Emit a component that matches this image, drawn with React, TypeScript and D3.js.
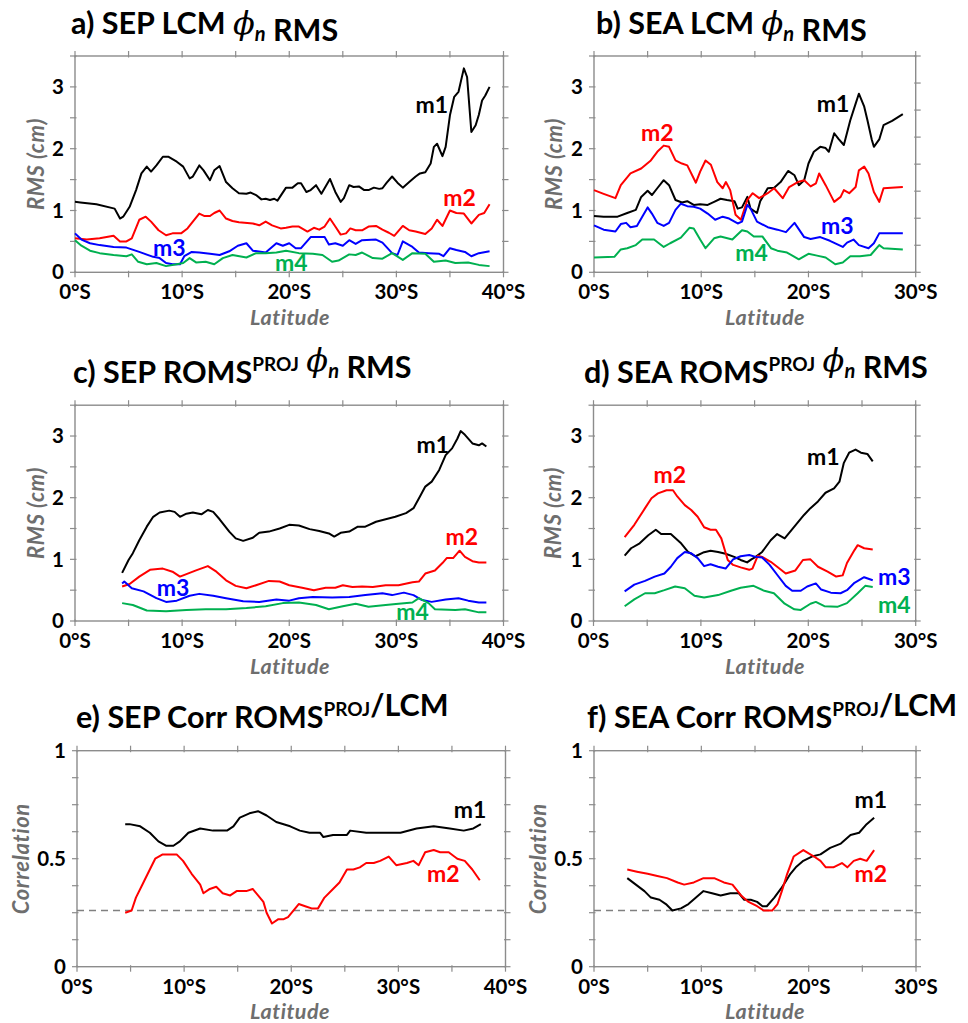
import React from 'react';
import * as d3 from 'd3';

type Pt = [number, number];

// ---------- a) SEP LCM phi_n RMS ----------
const aM1: Pt[] = [[0,1.14],[0.5,1.13],[2.0,1.10],[3.7,1.03],[4.2,0.87],[4.5,0.90],[5.1,1.06],[5.7,1.33],[6.2,1.60],[6.7,1.71],[7.1,1.63],[7.6,1.73],[8.2,1.87],[8.7,1.87],[9.5,1.79],[10.1,1.71],[10.7,1.52],[11.0,1.55],[11.6,1.73],[12.0,1.65],[12.6,1.49],[13.0,1.65],[13.5,1.72],[14.1,1.46],[14.7,1.36],[15.3,1.28],[16.0,1.27],[16.4,1.29],[16.9,1.25],[17.4,1.18],[17.8,1.19],[18.2,1.17],[18.6,1.19],[18.9,1.16],[19.7,1.37],[20.3,1.37],[20.8,1.44],[21.1,1.44],[21.6,1.30],[22.0,1.33],[22.5,1.41],[23.0,1.27],[23.3,1.36],[23.8,1.51],[24.3,1.30],[24.8,1.14],[25.1,1.20],[25.6,1.41],[26.0,1.38],[26.5,1.39],[27.0,1.33],[27.4,1.33],[27.9,1.37],[28.4,1.35],[28.7,1.36],[29.1,1.45],[29.6,1.55],[30.1,1.45],[30.6,1.37],[31.2,1.46],[31.8,1.55],[32.2,1.60],[32.7,1.62],[33.2,1.76],[33.5,2.03],[33.8,2.08],[34.3,1.88],[34.6,2.03],[35.0,2.54],[35.4,2.84],[35.8,2.92],[36.3,3.30],[36.6,3.16],[37.0,2.27],[37.4,2.38],[37.7,2.55],[38.0,2.78],[38.3,2.86],[38.7,3.00]];
const aM2: Pt[] = [[0,0.55],[1.1,0.53],[2.3,0.55],[3.6,0.59],[4.2,0.50],[4.8,0.50],[5.3,0.55],[6.0,0.85],[6.6,0.90],[7.1,0.82],[7.8,0.68],[8.5,0.60],[9.1,0.63],[9.9,0.63],[10.5,0.71],[11.0,0.82],[11.6,0.95],[12.1,0.91],[12.6,0.91],[13.0,0.96],[13.5,1.00],[14.1,0.87],[14.7,0.83],[15.3,0.81],[16.6,0.79],[17.2,0.76],[17.8,0.82],[18.4,0.76],[19.2,0.71],[19.7,0.72],[20.3,0.74],[20.9,0.74],[21.7,0.66],[22.3,0.72],[22.8,0.69],[23.3,0.74],[23.8,0.87],[24.3,0.74],[24.8,0.61],[25.3,0.63],[25.7,0.71],[26.2,0.68],[26.8,0.68],[27.4,0.74],[28.1,0.75],[28.7,0.69],[29.3,0.64],[29.8,0.59],[30.6,0.75],[31.2,0.68],[31.8,0.66],[32.7,0.62],[33.3,0.71],[33.8,0.85],[34.3,0.75],[35.0,1.00],[35.6,0.96],[36.3,0.95],[37.0,0.79],[37.7,0.93],[38.2,0.96],[38.7,1.10]];
const aM3: Pt[] = [[0,0.63],[0.6,0.53],[1.4,0.47],[2.3,0.44],[3.6,0.41],[4.8,0.40],[6.0,0.33],[7.3,0.25],[7.9,0.23],[8.5,0.15],[9.1,0.13],[9.8,0.13],[10.2,0.26],[10.9,0.33],[11.6,0.32],[12.6,0.30],[13.5,0.28],[14.4,0.34],[15.2,0.43],[16.0,0.47],[16.6,0.35],[17.8,0.32],[18.8,0.47],[19.4,0.43],[20.0,0.47],[20.6,0.39],[21.1,0.39],[22.0,0.57],[23.3,0.57],[23.7,0.45],[24.3,0.47],[25.0,0.43],[25.6,0.52],[26.2,0.46],[26.8,0.52],[28.1,0.53],[28.7,0.48],[29.6,0.31],[30.1,0.28],[30.6,0.50],[31.5,0.41],[32.1,0.32],[33.0,0.31],[34.0,0.30],[34.4,0.26],[35.0,0.39],[35.6,0.36],[36.4,0.33],[37.0,0.26],[37.7,0.31],[38.7,0.34]];
const aM4: Pt[] = [[0,0.52],[0.6,0.43],[1.4,0.35],[2.3,0.31],[3.6,0.28],[4.8,0.26],[5.3,0.29],[5.9,0.17],[6.7,0.13],[7.6,0.15],[8.5,0.10],[9.5,0.13],[10.1,0.15],[10.7,0.23],[11.3,0.16],[12.2,0.17],[13.0,0.13],[13.8,0.23],[14.7,0.28],[16.0,0.24],[16.9,0.31],[17.8,0.31],[18.8,0.32],[19.7,0.35],[20.9,0.31],[22.2,0.30],[23.1,0.28],[24.0,0.17],[24.6,0.19],[25.6,0.29],[26.2,0.28],[26.8,0.32],[27.8,0.23],[28.7,0.22],[29.6,0.31],[30.6,0.20],[31.5,0.31],[32.7,0.30],[33.5,0.17],[34.6,0.19],[35.5,0.15],[36.7,0.16],[37.7,0.12],[38.7,0.10]];

// ---------- b) SEA LCM phi_n RMS ----------
const bM1: Pt[] = [[0,0.91],[0.9,0.90],[2.2,0.90],[3.1,0.96],[3.9,1.01],[4.4,1.22],[5.0,1.32],[5.4,1.25],[5.9,1.36],[6.5,1.49],[7.0,1.41],[7.6,1.17],[8.2,1.13],[8.7,1.15],[9.3,1.09],[9.9,1.10],[10.6,1.09],[11.2,1.14],[11.8,1.19],[12.4,1.17],[13.1,1.15],[13.4,1.03],[13.8,1.05],[14.3,1.22],[14.6,1.03],[15.2,0.96],[15.5,1.15],[16.2,1.36],[16.8,1.37],[17.4,1.46],[18.1,1.64],[18.7,1.57],[19.1,1.41],[19.6,1.49],[20.0,1.76],[20.5,1.95],[21.1,2.03],[21.6,2.01],[21.9,1.95],[22.4,2.25],[22.8,2.16],[23.3,2.06],[23.9,2.46],[24.4,2.73],[24.7,2.89],[25.2,2.68],[25.5,2.46],[25.9,2.15],[26.1,2.03],[26.6,2.15],[27.0,2.38],[27.8,2.45],[28.8,2.56]];
const bM2: Pt[] = [[0,1.33],[0.9,1.27],[2.0,1.20],[2.5,1.41],[3.4,1.60],[4.4,1.68],[5.3,1.81],[5.9,1.95],[6.5,2.05],[7.0,2.03],[7.6,1.81],[8.2,1.76],[8.7,1.73],[9.5,1.45],[9.9,1.63],[10.4,1.81],[10.9,1.74],[11.5,1.46],[12.0,1.36],[12.3,1.46],[12.7,1.33],[13.2,0.93],[13.7,0.85],[14.3,1.17],[14.8,1.28],[15.4,1.20],[16.2,1.28],[16.8,1.36],[17.6,1.20],[18.2,1.38],[19.0,1.46],[19.6,1.49],[20.2,1.39],[20.7,1.44],[21.0,1.60],[21.6,1.41],[22.4,1.14],[23.0,1.22],[23.3,1.33],[23.8,1.28],[24.4,1.38],[24.7,1.65],[25.2,1.71],[25.6,1.60],[26.1,1.30],[26.6,1.14],[27.0,1.36],[28.8,1.38]];
const bM3: Pt[] = [[0,0.76],[0.9,0.69],[2.0,0.66],[2.5,0.78],[3.0,0.80],[3.4,0.73],[4.0,0.75],[4.5,0.90],[5.0,1.05],[5.4,0.95],[5.9,0.80],[6.5,0.75],[7.0,0.80],[7.6,1.01],[8.1,1.11],[8.7,1.07],[9.3,1.06],[9.9,1.03],[10.6,0.95],[11.3,0.85],[12.0,0.90],[12.6,0.87],[13.4,0.79],[13.8,0.82],[14.3,1.09],[14.6,1.03],[15.2,0.82],[16.2,0.73],[17.1,0.69],[17.9,0.65],[18.7,0.80],[19.6,0.57],[20.2,0.54],[21.1,0.57],[22.0,0.51],[23.2,0.41],[23.6,0.48],[24.2,0.53],[24.7,0.44],[25.6,0.39],[26.1,0.47],[26.6,0.63],[28.8,0.63]];
const bM4: Pt[] = [[0,0.24],[1.9,0.25],[2.5,0.37],[3.1,0.39],[3.9,0.44],[4.5,0.53],[5.6,0.53],[6.5,0.41],[7.1,0.47],[8.1,0.56],[8.9,0.72],[9.3,0.71],[9.9,0.53],[10.4,0.39],[11.2,0.55],[11.8,0.58],[12.9,0.53],[13.8,0.68],[14.3,0.66],[14.9,0.58],[15.7,0.58],[16.5,0.39],[17.1,0.35],[18.0,0.32],[19.1,0.21],[20.0,0.30],[20.8,0.27],[21.6,0.24],[22.5,0.13],[23.2,0.16],[23.9,0.26],[24.8,0.26],[25.8,0.28],[26.6,0.44],[27.0,0.39],[28.8,0.37]];

// ---------- c) SEP ROMS-PROJ phi_n RMS ----------
const cM1: Pt[] = [[4.4,0.78],[5.0,0.99],[5.4,1.10],[6.0,1.31],[6.7,1.53],[7.3,1.69],[7.9,1.76],[8.8,1.79],[9.3,1.77],[9.8,1.69],[10.4,1.74],[11.0,1.76],[11.8,1.73],[12.4,1.80],[12.9,1.77],[13.5,1.65],[14.4,1.45],[15.0,1.34],[15.7,1.30],[16.6,1.35],[17.2,1.43],[18.1,1.45],[19.1,1.50],[20.0,1.56],[20.9,1.55],[21.9,1.49],[22.8,1.46],[23.7,1.42],[24.2,1.37],[24.8,1.43],[25.6,1.45],[26.4,1.53],[27.1,1.53],[28.1,1.61],[29.0,1.65],[29.9,1.69],[30.9,1.75],[31.6,1.83],[32.2,2.02],[32.7,2.18],[33.3,2.26],[34.0,2.45],[34.6,2.69],[35.2,2.80],[35.7,2.96],[36.0,3.08],[36.4,3.02],[37.1,2.88],[37.7,2.85],[38.0,2.88],[38.4,2.83]];
const cM2: Pt[] = [[4.4,0.56],[5.1,0.60],[6.0,0.72],[7.0,0.83],[8.2,0.85],[9.1,0.80],[9.8,0.72],[10.4,0.76],[11.3,0.82],[12.4,0.89],[13.2,0.80],[14.1,0.66],[15.0,0.57],[16.0,0.53],[16.9,0.58],[18.1,0.65],[19.1,0.64],[20.0,0.58],[21.2,0.54],[22.3,0.50],[23.4,0.54],[24.3,0.54],[25.0,0.58],[25.9,0.55],[26.8,0.56],[27.8,0.55],[29.0,0.58],[30.2,0.58],[31.5,0.63],[32.1,0.64],[32.7,0.77],[33.6,0.82],[34.3,0.94],[34.7,1.02],[35.3,1.02],[35.9,1.14],[36.4,1.04],[37.1,0.97],[37.7,0.95],[38.4,0.95]];
const cM3: Pt[] = [[4.4,0.61],[4.6,0.64],[5.3,0.53],[6.4,0.48],[7.6,0.37],[8.5,0.31],[9.5,0.33],[10.7,0.41],[11.6,0.44],[12.9,0.41],[14.1,0.37],[15.7,0.32],[17.2,0.31],[18.8,0.35],[20.0,0.33],[20.9,0.37],[22.2,0.39],[24.0,0.38],[25.6,0.39],[27.1,0.42],[28.7,0.45],[29.6,0.42],[30.7,0.46],[31.6,0.42],[32.4,0.34],[33.3,0.31],[34.6,0.35],[35.8,0.37],[36.7,0.33],[37.7,0.30],[38.4,0.30]];
const cM4: Pt[] = [[4.4,0.29],[5.4,0.26],[6.7,0.17],[8.5,0.16],[10.4,0.18],[12.2,0.19],[14.1,0.19],[16.0,0.21],[17.8,0.24],[19.4,0.29],[20.9,0.30],[22.5,0.26],[23.7,0.19],[25.0,0.24],[26.2,0.28],[27.4,0.23],[29.0,0.26],[30.2,0.28],[31.5,0.30],[32.1,0.37],[33.0,0.29],[33.6,0.19],[35.5,0.18],[36.4,0.19],[37.7,0.14],[38.4,0.14]];

// ---------- d) SEA ROMS-PROJ phi_n RMS ----------
const dM1: Pt[] = [[2.9,1.06],[3.5,1.18],[4.3,1.26],[5.1,1.39],[5.8,1.48],[6.3,1.41],[7.2,1.41],[8.1,1.27],[8.8,1.12],[9.5,1.05],[10.2,1.11],[10.9,1.14],[11.6,1.12],[12.3,1.09],[13.1,1.04],[13.7,0.99],[14.3,0.95],[14.7,1.00],[15.1,1.04],[15.7,1.12],[16.5,1.31],[17.1,1.41],[17.8,1.34],[18.7,1.53],[19.6,1.72],[20.2,1.83],[20.9,1.94],[21.6,2.08],[22.4,2.15],[22.9,2.26],[23.3,2.56],[23.8,2.73],[24.4,2.78],[24.9,2.73],[25.5,2.71],[26.0,2.59]];
const dM2: Pt[] = [[2.9,1.36],[3.8,1.56],[4.8,1.83],[5.4,1.99],[6.0,2.07],[6.8,2.12],[7.4,2.12],[7.8,2.02],[8.5,1.88],[9.1,1.80],[9.7,1.69],[10.3,1.52],[10.9,1.48],[11.4,1.48],[11.9,1.34],[12.5,0.99],[13.0,0.91],[13.7,0.87],[14.5,0.83],[14.8,0.85],[15.3,1.06],[15.7,1.04],[16.5,0.96],[17.1,0.88],[17.9,0.77],[18.8,0.82],[19.5,0.99],[20.2,1.00],[20.9,0.88],[21.8,0.80],[22.6,0.72],[23.2,0.74],[23.6,0.94],[24.3,1.15],[24.6,1.23],[25.2,1.18],[26.0,1.16]];
const dM3: Pt[] = [[2.9,0.48],[3.8,0.59],[4.8,0.65],[5.7,0.72],[6.6,0.77],[7.2,0.88],[7.8,1.02],[8.5,1.12],[9.1,1.10],[9.7,1.02],[10.3,0.89],[10.9,0.92],[11.6,0.88],[12.3,0.85],[13.0,1.00],[13.7,1.05],[14.5,1.07],[15.1,1.04],[15.7,1.03],[16.4,0.91],[17.1,0.75],[17.9,0.57],[18.5,0.49],[19.3,0.49],[19.9,0.56],[20.7,0.61],[21.2,0.51],[22.1,0.46],[23.0,0.45],[23.6,0.50],[24.3,0.62],[25.2,0.71],[26.0,0.66]];
const dM4: Pt[] = [[2.9,0.24],[3.8,0.35],[4.8,0.45],[5.7,0.45],[6.6,0.50],[7.6,0.56],[8.5,0.53],[9.4,0.41],[10.3,0.38],[11.6,0.42],[12.8,0.49],[13.7,0.54],[14.9,0.57],[15.9,0.49],[16.8,0.45],[17.8,0.28],[18.7,0.19],[19.3,0.18],[20.2,0.28],[20.7,0.31],[21.5,0.24],[22.7,0.23],[23.6,0.29],[24.6,0.45],[25.3,0.57],[26.0,0.55]];

// ---------- e) SEP correlation ROMS-PROJ / LCM ----------
const eM1: Pt[] = [[4.5,0.66],[4.9,0.66],[5.9,0.65],[6.8,0.62],[7.6,0.58],[8.3,0.56],[9.0,0.56],[9.6,0.58],[10.4,0.62],[11.5,0.64],[12.7,0.63],[14.0,0.63],[14.6,0.65],[15.2,0.69],[16.1,0.71],[16.9,0.72],[17.7,0.70],[18.6,0.67],[19.9,0.65],[20.8,0.63],[21.7,0.62],[22.7,0.62],[23.0,0.60],[23.9,0.61],[25.2,0.61],[25.5,0.63],[27.0,0.62],[28.6,0.62],[30.2,0.62],[31.7,0.64],[33.3,0.65],[34.8,0.64],[36.1,0.63],[37.0,0.64],[37.7,0.66]];
const eM2: Pt[] = [[4.5,0.25],[5.1,0.26],[5.5,0.32],[6.2,0.39],[6.8,0.45],[7.3,0.50],[8.0,0.52],[9.3,0.52],[9.9,0.49],[10.7,0.43],[11.5,0.38],[11.8,0.34],[12.4,0.36],[13.0,0.37],[13.6,0.34],[14.3,0.33],[14.9,0.35],[15.8,0.35],[16.4,0.36],[16.9,0.33],[17.4,0.30],[17.7,0.25],[18.2,0.20],[18.8,0.22],[19.3,0.22],[19.7,0.23],[20.2,0.26],[20.7,0.29],[21.3,0.28],[21.9,0.27],[22.5,0.27],[23.1,0.32],[23.9,0.36],[24.5,0.39],[25.2,0.45],[25.8,0.45],[26.4,0.46],[27.0,0.48],[27.7,0.48],[28.3,0.49],[29.1,0.51],[29.8,0.47],[30.8,0.48],[31.4,0.49],[31.9,0.47],[32.5,0.53],[33.3,0.54],[33.9,0.53],[34.7,0.53],[35.5,0.50],[36.2,0.49],[36.9,0.45],[37.6,0.40]];

// ---------- f) SEA correlation ROMS-PROJ / LCM ----------
const fM1: Pt[] = [[3.1,0.41],[3.9,0.38],[4.7,0.35],[5.3,0.32],[6.1,0.31],[6.7,0.29],[7.3,0.26],[8.1,0.27],[8.8,0.29],[9.5,0.32],[10.2,0.35],[11.0,0.34],[11.8,0.33],[12.7,0.34],[13.5,0.34],[14.0,0.31],[14.6,0.31],[15.2,0.30],[15.7,0.28],[16.1,0.28],[16.8,0.32],[17.4,0.36],[17.8,0.39],[18.3,0.43],[18.8,0.46],[19.5,0.49],[20.3,0.51],[21.1,0.52],[22.0,0.55],[23.0,0.57],[23.9,0.61],[24.7,0.62],[25.4,0.66],[26.1,0.69]];
const fM2: Pt[] = [[3.1,0.45],[4.0,0.44],[5.0,0.43],[5.9,0.42],[6.8,0.41],[7.8,0.39],[8.4,0.38],[9.3,0.39],[10.2,0.41],[11.2,0.41],[12.1,0.39],[12.9,0.38],[13.7,0.33],[14.4,0.30],[15.2,0.28],[15.8,0.26],[16.6,0.26],[17.1,0.29],[17.5,0.35],[18.0,0.43],[18.6,0.51],[19.5,0.54],[20.5,0.51],[21.1,0.49],[21.6,0.46],[22.3,0.46],[23.1,0.48],[23.6,0.46],[24.2,0.49],[24.8,0.50],[25.4,0.49],[26.1,0.54]];

// significance level for correlation panels
const sigLevel = 0.26;

const seriesNames = ['m1', 'm2', 'm3', 'm4'];
const xTickLabels = [0, 10, 20, 30, 40];
const rmsTickLabels = [0, 1, 2, 3];
const corrTickLabels = [0, 0.5, 1];

const COLORS: Record<string, string> = { m1: '#000000', m2: '#ff0000', m3: '#0000ff', m4: '#00b050' };
const FONT = "Lato, 'Open Sans', 'DejaVu Sans', sans-serif";
const AXIS_GREY = '#8c8c8c';
const LABEL_GREY = '#6e6e6e';

type Seg = { t: string; k?: 'sup' | 'phi' };

type PanelCfg = {
  title: Seg[];
  titleX: number;
  titleY: number;
  x0: number; x1: number; yTop: number; yBot: number;
  xMax: number; yMax: number; yMinor: number;
  yLabels: number[];
  rightDivisions?: number;
  yTitle: string; yTitleX: number;
  xTitleX: number;
  series: Pt[][];
  labels: [number, number][];
  dashed?: boolean;
};

const panels: PanelCfg[] = [
  { title: [{ t: 'a) SEP LCM ' }, { t: 'ϕ', k: 'phi' }, { t: ' RMS' }], titleX: 71, titleY: 34,
    x0: 75, x1: 503.5, yTop: 56, yBot: 272.3, xMax: 40, yMax: 3.5, yMinor: 0.5, yLabels: rmsTickLabels,
    yTitle: 'RMS (cm)', yTitleX: 36, xTitleX: 290,
    series: [aM1, aM2, aM3, aM4], labels: [[33.3, 2.71], [35.9, 1.2], [8.8, 0.39], [20.2, 0.15]] },
  { title: [{ t: 'b) SEA LCM ' }, { t: 'ϕ', k: 'phi' }, { t: ' RMS' }], titleX: 596, titleY: 34,
    x0: 594, x1: 915.7, yTop: 56, yBot: 272.3, xMax: 30, yMax: 3.5, yMinor: 0.5, yLabels: rmsTickLabels,
    rightDivisions: 8,
    yTitle: 'RMS (cm)', yTitleX: 554, xTitleX: 765,
    series: [bM1, bM2, bM3, bM4], labels: [[22.3, 2.72], [5.9, 2.25], [22.7, 0.75], [14.7, 0.31]] },
  { title: [{ t: 'c) SEP ROMS' }, { t: 'PROJ', k: 'sup' }, { t: ' ' }, { t: 'ϕ', k: 'phi' }, { t: ' RMS' }], titleX: 73, titleY: 383,
    x0: 75, x1: 503.5, yTop: 405.2, yBot: 621, xMax: 40, yMax: 3.5, yMinor: 0.5, yLabels: rmsTickLabels,
    yTitle: 'RMS (cm)', yTitleX: 36, xTitleX: 290,
    series: [cM1, cM2, cM3, cM4], labels: [[33.4, 2.85], [36.1, 1.36], [9.15, 0.54], [31.5, 0.15]] },
  { title: [{ t: 'd) SEA ROMS' }, { t: 'PROJ', k: 'sup' }, { t: ' ' }, { t: 'ϕ', k: 'phi' }, { t: ' RMS' }], titleX: 584, titleY: 383,
    x0: 593.5, x1: 915.7, yTop: 405.2, yBot: 621, xMax: 30, yMax: 3.5, yMinor: 0.5, yLabels: rmsTickLabels,
    yTitle: 'RMS (cm)', yTitleX: 553, xTitleX: 765,
    series: [dM1, dM2, dM3, dM4], labels: [[21.4, 2.66], [7.1, 2.37], [28.0, 0.71], [28.0, 0.26]] },
  { title: [{ t: 'e) SEP Corr ROMS' }, { t: 'PROJ', k: 'sup' }, { t: '/LCM' }], titleX: 76, titleY: 728,
    x0: 77, x1: 505.5, yTop: 750.7, yBot: 966.7, xMax: 40, yMax: 1, yMinor: 0.125, yLabels: corrTickLabels,
    yTitle: 'Correlation', yTitleX: 21, xTitleX: 290,
    series: [eM1, eM2], labels: [[36.7, 0.725], [34.2, 0.43]], dashed: true },
  { title: [{ t: 'f) SEA Corr ROMS' }, { t: 'PROJ', k: 'sup' }, { t: '/LCM' }], titleX: 587, titleY: 728,
    x0: 594, x1: 916, yTop: 750.7, yBot: 966.7, xMax: 30, yMax: 1, yMinor: 0.125, yLabels: corrTickLabels,
    yTitle: 'Correlation', yTitleX: 538, xTitleX: 765,
    series: [fM1, fM2], labels: [[25.8, 0.77], [25.8, 0.43]], dashed: true },
];

function Title({ segs, x, y }: { segs: Seg[]; x: number; y: number }) {
  const out: React.ReactNode[] = [];
  segs.forEach((s, i) => {
    if (s.k === 'sup') {
      out.push(<tspan key={i} fontSize={19} dy={-12}>{s.t}</tspan>);
      out.push(<tspan key={i + 'r'} dy={12}>{''}</tspan>);
    } else if (s.k === 'phi') {
      out.push(<tspan key={i} fontStyle="italic" fontWeight="normal" fontSize={32} fontFamily="'DejaVu Serif', serif">{s.t}</tspan>);
      out.push(<tspan key={i + 'n'} fontStyle="italic" fontSize={20} dy={7}>n</tspan>);
      out.push(<tspan key={i + 'r'} dy={-7}>{''}</tspan>);
    } else {
      out.push(<tspan key={i}>{s.t}</tspan>);
    }
  });
  return (
    <text x={x} y={y} fontFamily={FONT} fontWeight="bold" fontSize={30.5} fill="#000" xmlSpace="preserve" style={{ whiteSpace: 'pre' }}>
      {out}
    </text>
  );
}

function Panel({ p }: { p: PanelCfg }) {
  const x = d3.scaleLinear().domain([0, p.xMax]).range([p.x0, p.x1]);
  const y = d3.scaleLinear().domain([0, p.yMax]).range([p.yBot, p.yTop]);
  const line = d3.line<Pt>().x(d => x(d[0])).y(d => y(d[1]));
  const xTicks = d3.range(0, p.xMax + 0.001, 5);
  const yTicks = d3.range(0, p.yMax + 0.0001, p.yMinor);
  const rightTicks = p.rightDivisions
    ? d3.range(0, p.rightDivisions + 1).map(i => p.yBot - (i * (p.yBot - p.yTop)) / p.rightDivisions!)
    : yTicks.map(v => y(v));
  const TL = 5;
  const TI = 1.5;
  const fmtY = (v: number) => (v === 0.5 ? '0.5' : String(v));
  return (
    <g>
      <Title segs={p.title} x={p.titleX} y={p.titleY} />
      {/* ticks */}
      <g stroke={AXIS_GREY} strokeWidth={1.2}>
        {xTicks.map(v => (
          <g key={'xt' + v}>
            <line x1={x(v)} x2={x(v)} y1={p.yBot - TI} y2={p.yBot + TL} />
            <line x1={x(v)} x2={x(v)} y1={p.yTop + TI} y2={p.yTop - TL} />
          </g>
        ))}
        {yTicks.map(v => (
          <line key={'yl' + v} x1={p.x0 - TL} x2={p.x0 + TI} y1={y(v)} y2={y(v)} />
        ))}
        {rightTicks.map((py, i) => (
          <line key={'yr' + i} x1={p.x1 - TI} x2={p.x1 + TL} y1={py} y2={py} />
        ))}
      </g>
      <rect x={p.x0} y={p.yTop} width={p.x1 - p.x0} height={p.yBot - p.yTop} fill="none" stroke={AXIS_GREY} strokeWidth={1.4} />
      {/* tick labels */}
      <g fontFamily={FONT} fontWeight="bold" fontSize={20.5} fill="#000">
        {xTickLabels.filter(v => v <= p.xMax).map(v => (
          <text key={'xl' + v} x={x(v)} y={p.yBot + 27} textAnchor="middle">{`${v}°S`}</text>
        ))}
        {p.yLabels.map(v => (
          <text key={'yl' + v} x={p.x0 - 11} y={y(v)} dy="0.35em" textAnchor="end">{fmtY(v)}</text>
        ))}
      </g>
      {/* axis titles */}
      <text x={p.xTitleX} y={p.yBot + 52.5} textAnchor="middle" fontFamily={FONT} fontWeight="bold" fontStyle="italic" fontSize={21.5} letterSpacing={0.5} fill={LABEL_GREY}>Latitude</text>
      <text transform={`translate(${p.yTitleX},${(p.yTop + p.yBot) / 2}) rotate(-90)`} textAnchor="middle" dy="0.35em" fontFamily={FONT} fontWeight="bold" fontStyle="italic" fontSize={22} letterSpacing={0.6} fill={LABEL_GREY}>{p.yTitle}</text>
      {p.dashed && (
        <line x1={p.x0} x2={p.x1} y1={y(sigLevel)} y2={y(sigLevel)} stroke="#808080" strokeWidth={1.5} strokeDasharray="7,5" />
      )}
      {/* series */}
      {p.series.map((s, i) => (
        <path key={'s' + i} d={line(s) || ''} fill="none" stroke={COLORS[seriesNames[i]]} strokeWidth={2} strokeLinejoin="round" />
      ))}
      {p.labels.map((l, i) => (
        <text key={'lb' + i} x={x(l[0])} y={y(l[1])} dy="0.35em" textAnchor="middle" fontFamily={FONT} fontWeight="bold" fontSize={23} fill={COLORS[seriesNames[i]]}>{seriesNames[i]}</text>
      ))}
    </g>
  );
}

export default function App() {
  return (
    <svg width={968} height={1023} style={{ position: 'absolute', left: 0, top: 0, background: '#fff' }}>
      <rect width={968} height={1023} fill="#fff" />
      {panels.map((p, i) => <Panel key={i} p={p} />)}
    </svg>
  );
}
